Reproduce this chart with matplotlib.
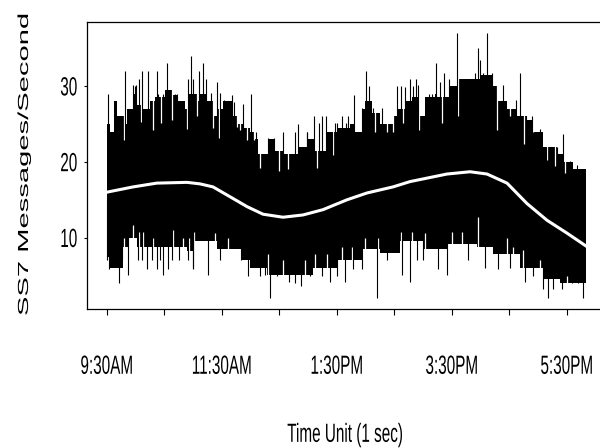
import numpy as np
import matplotlib
matplotlib.use("Agg")
import matplotlib.pyplot as plt
from matplotlib.patheffects import AbstractPathEffect
from matplotlib.transforms import Affine2D

# times are hours after 9:30AM, values are SS7 messages per second
# upper edge of the dense band
top_h = [0.000, 0.057, 0.127, 0.179, 0.301, 0.353, 0.457, 0.527, 0.631, 0.753,
         0.840, 1.014, 1.136, 1.240, 1.362, 1.414, 1.570, 1.623, 1.744, 1.849,
         1.936, 2.023, 2.197, 2.266, 2.370, 2.492, 2.579, 2.631, 2.805, 2.927,
         3.066, 3.327, 3.501, 3.623, 3.831, 4.005, 4.231, 4.318, 4.440, 4.492,
         4.614, 4.753, 4.979, 5.066, 5.188, 5.310, 5.414, 5.536, 5.710, 5.744,
         5.970, 6.110, 6.492, 6.701, 6.788, 6.962, 7.136, 7.310, 7.414, 7.588,
         7.831, 7.936, 8.110, 8.336]
top_v = [25, 24, 28, 26, 25, 27, 29, 27.5, 27, 28,
         28.5, 29.5, 28.8, 28, 27, 29, 28, 29, 28, 26,
         27, 28, 26, 25, 24.5, 24, 23, 21, 23, 21.5,
         21, 22, 23, 21.5, 24, 24.5, 25, 24, 27, 28,
         26.5, 25, 26, 27, 28, 28.5, 26, 28.5, 29, 28.5,
         30, 31, 31.5, 30, 28, 27, 26, 25.5, 24, 22,
         21, 20, 18.5, 18.5]

# lower edge of the dense band
bot_h = [0.000, 0.057, 0.283, 0.376, 0.527, 1.397, 1.501, 1.918, 2.353, 2.492,
         2.788, 3.588, 4.005, 4.457, 4.753, 5.101, 5.501, 5.918, 6.440, 6.718,
         7.196, 7.588, 7.883, 8.336]
bot_v = [7.5, 6, 8.8, 10, 8.8, 8.2, 9.5, 8.5, 7.1, 6,
         5.1, 6, 7.1, 8.5, 8, 9.5, 8.5, 9.2, 8.8, 7.8,
         6, 4.6, 4, 4]

# single seconds that stick out above the band
up_h = [0.028, 0.318, 0.492, 0.619, 0.723, 0.870, 1.043, 1.419, 1.461, 1.610,
        1.670, 1.923, 2.184, 2.365, 2.504, 3.061, 3.275, 3.332, 3.489, 3.605,
        3.750, 3.809, 4.087, 4.202, 4.306, 4.504, 4.567, 5.043, 5.113, 5.275,
        5.374, 5.727, 5.797, 5.871, 6.087, 6.452, 6.492, 6.609, 7.196, 7.941,
        0.457, 0.510, 0.567, 0.897, 0.984, 1.188, 1.217, 1.506, 1.727, 1.814,
        1.970, 2.045, 2.219, 2.597, 2.810, 2.910, 3.478, 3.697, 3.913, 3.970,
        4.000, 4.162, 4.435, 4.626, 4.783, 5.188, 5.332, 5.409, 5.605, 5.652,
        5.953, 6.144, 6.405, 6.539, 6.696, 6.897, 7.118, 7.292, 7.391, 7.536,
        7.640, 7.826, 8.057, 8.174]
up_v = [29, 32, 30, 32, 32, 32, 33, 31, 34, 32,
        33, 30.6, 28.8, 27.6, 29, 24, 24, 25, 24, 26,
        26, 26, 26, 26, 28.8, 32, 30, 30, 30, 31,
        31, 33, 30.6, 31.7, 37, 35, 33.5, 37, 31.7, 23.7,
        30.1, 30.1, 31, 29, 29, 29, 29, 31, 31, 29.1,
        29.1, 28.2, 27.9, 24, 23.1, 23.1, 24, 25.1, 24, 25.1,
        25.1, 25.1, 27.1, 27.1, 27.1, 29.9, 30, 30.1, 29, 29,
        31, 31, 31.7, 31.7, 31.7, 30.1, 28.2, 26, 26, 24.3,
        22, 22, 20.1, 19.6]

# single seconds that drop below the band
down_h = [0.219, 0.376, 0.984, 1.496, 1.767, 2.753, 2.840, 3.176, 3.374, 3.883,
          4.144, 4.696, 5.130, 5.275, 5.913, 6.579, 7.014, 7.275, 7.680, 8.289,
          0.010, 0.045, 0.261, 0.550, 0.619, 0.696, 0.783, 0.870, 0.927, 1.071,
          1.130, 1.263, 1.419, 1.506, 1.970, 2.336, 2.463, 2.666, 2.957, 3.275,
          3.537, 3.739, 4.000, 4.289, 4.435, 4.870, 5.391, 5.506, 5.767, 6.289,
          6.810, 7.419, 7.593, 7.767, 7.913, 8.087, 8.202]
down_v = [4, 5.1, 5.1, 6, 5.1, 5.1, 2.1, 4.1, 3.6, 4.1,
          4.1, 2.1, 5.1, 4.1, 5.1, 6, 6, 4.1, 2.1, 2,
          7.1, 5.9, 7.1, 7.1, 7.1, 5.9, 7.1, 5.9, 7.1, 5.9,
          7.1, 7.1, 7.1, 5.9, 7.1, 7.1, 4.9, 4.9, 4.9, 4.0,
          4.9, 4.9, 4.9, 5.9, 5.9, 7.1, 7.1, 7.1, 5.9, 7.1,
          5.9, 4.9, 3.2, 3.2, 3.2, 4.0, 4.0]

# quiet seconds that leave white gaps in the top of the band
gap_top_h = [0.301, 0.591, 0.805, 0.944, 1.136, 1.391, 1.579, 1.854, 1.958, 2.261,
             2.318, 2.435, 2.562, 2.670, 2.997, 3.148, 3.652, 3.941, 4.666, 4.870,
             4.984, 5.158, 5.431, 5.826, 6.115, 6.783, 7.014, 7.257, 7.414, 7.652,
             7.797, 7.971]
gap_top_v = [22.9, 25.3, 24.2, 25.1, 25.5, 24.4, 26, 24.5, 23.1, 24.6,
             24.2, 22.9, 22.9, 19.2, 18.8, 19, 19.2, 20.9, 24, 24,
             24, 25.1, 24.2, 25.1, 26, 24.2, 26, 22.4, 24, 20.3,
             19.4, 18.5]

# busy seconds that leave white gaps in the bottom of the band
gap_bot_h = [0.301, 0.463, 0.562, 0.637, 0.805, 1.158, 1.322, 1.437, 1.518, 1.883,
             2.115, 2.810, 3.071, 3.449, 3.623, 3.826, 4.087, 4.261, 4.492, 4.723,
             5.113, 5.304, 5.536, 6.000, 6.174, 6.452, 6.957, 7.071, 7.245, 7.536,
             8.000]
gap_bot_v = [9.9, 11.7, 10.8, 10.8, 9.9, 11, 9.9, 9.9, 10.8, 10.6,
             9.9, 7.9, 7.1, 7.1, 7.9, 7.9, 8.8, 8.8, 9.9, 9.9,
             10.8, 10.8, 10.6, 10.8, 10.8, 12.7, 9.9, 8.8, 8.4, 7.1,
             4.9]

# smooth trend (white curve)
smooth_h = [0.000, 0.459, 0.870, 1.397, 1.623, 1.849, 2.145, 2.440, 2.718, 3.066,
            3.414, 3.762, 4.179, 4.527, 4.753, 4.979, 5.275, 5.918, 6.318, 6.614,
            6.962, 7.310, 7.657, 8.005, 8.336]
smooth_v = [16.0, 16.7, 17.2, 17.3, 17.1, 16.7, 15.4, 14.1, 13.1, 12.7,
            13.0, 13.7, 15.0, 15.9, 16.3, 16.7, 17.4, 18.4, 18.7, 18.4,
            17.2, 14.5, 12.3, 10.6, 8.9]

tick_hours = [0, 1, 2, 3, 4, 5, 6, 7, 8]
tick_labels = ['9:30AM', '', '11:30AM', '', '1:30PM', '', '3:30PM', '', '5:30PM']
y_ticks = [10, 20, 30]


class Stretch(AbstractPathEffect):
    # the scan's lettering is tall and narrow: stretch glyphs about their centre
    def __init__(self, sx=1.0, sy=1.0):
        super().__init__()
        self.sx, self.sy = sx, sy

    def draw_path(self, renderer, gc, tpath, affine, rgbFace=None):
        box = tpath.get_extents(affine)
        cx = box.x0 + 0.5 * box.width
        cy = box.y0 + 0.5 * box.height
        t = Affine2D().translate(-cx, -cy).scale(self.sx, self.sy).translate(cx, cy)
        renderer.draw_path(gc, tpath, affine + t, rgbFace)


plt.rcParams['font.family'] = ['Liberation Sans', 'DejaVu Sans']

fig = plt.figure(figsize=(6, 4.48), dpi=100)
ax = fig.add_axes([87/600, 1 - 309/448, 513/600, 287/448])

sec = 3600
ax.fill_between(np.array(top_h) * sec, 12, top_v, step='post', color='k', lw=0)
ax.fill_between(np.array(bot_h) * sec, bot_v, 19, step='post', color='k', lw=0)
ax.vlines(np.array(gap_top_h) * sec, gap_top_v, 39, color='white', lw=0.9)
ax.vlines(np.array(gap_bot_h) * sec, 0, gap_bot_v, color='white', lw=0.9)
ax.vlines(np.array(up_h) * sec, 15, up_v, color='k', lw=0.8)
ax.vlines(np.array(down_h) * sec, down_v, 15, color='k', lw=0.8)
ax.plot(np.array(smooth_h) * sec, smooth_v, color='white', lw=2.2, zorder=5)

ax.set_xlim(-0.3426 * sec, 8.579 * sec)
ax.set_ylim(0.59, 38.46)
ax.set_xticks(np.array(tick_hours) * sec, tick_labels)
ax.set_yticks(y_ticks)
ax.tick_params(axis='x', length=4, width=0.8, pad=32, labelsize=11)
ax.tick_params(axis='y', length=2.5, width=0.8, pad=4.5, labelsize=11)
ax.spines['right'].set_visible(False)
for s in ['top', 'left', 'bottom']:
    ax.spines[s].set_linewidth(0.9)

for lab in ax.get_xticklabels() + ax.get_yticklabels():
    lab.set_path_effects([Stretch(sy=1.72)])

ax.set_xlabel('Time Unit (1 sec)', fontsize=11, va='center',
              path_effects=[Stretch(sy=1.72)])
ax.xaxis.set_label_coords(0.503, -0.439)
ax.set_ylabel('SS7 Messages/Second', fontsize=10.5, va='center', ha='center',
              path_effects=[Stretch(sy=2.0)])
ax.yaxis.set_label_coords(-0.1228, 0.505)

fig.savefig('out.png', dpi=100)
